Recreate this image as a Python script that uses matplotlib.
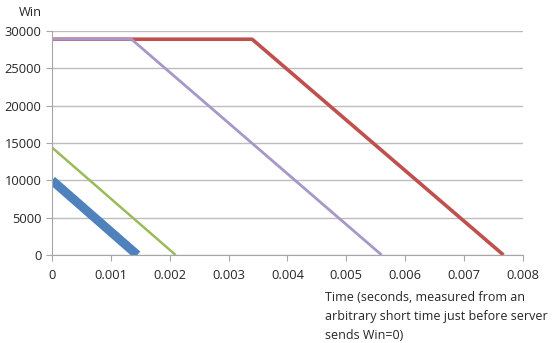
import numpy as np
import matplotlib
matplotlib.use("Agg")
import matplotlib.pyplot as plt

plt.rcParams['font.family'] = ['Open Sans', 'DejaVu Sans']

# breakpoints of each series (time in s, window in bytes)
blue_t = [0.0, 0.00145]
blue_w = [10000, 0]
green_t = [0.0, 0.0021]
green_w = [14400, 0]
purple_t = [0.0, 0.00135, 0.0056]
purple_w = [28900, 28900, 0]
red_t = [0.0, 0.0034, 0.00767]
red_w = [28900, 28900, 0]

xticks = [0, 0.001, 0.002, 0.003, 0.004, 0.005, 0.006, 0.007, 0.008]
xticklabels = ["0", "0.001", "0.002", "0.003", "0.004", "0.005", "0.006", "0.007", "0.008"]
yticks = [0, 5000, 10000, 15000, 20000, 25000, 30000]

fig = plt.figure(figsize=(5.56, 3.43), dpi=100)
ax = fig.add_axes([0.0935, 0.2566, 0.847, 0.653])

ax.plot(red_t, red_w, color="#C0504D", linewidth=2.6, solid_capstyle="butt")
ax.plot(purple_t, purple_w, color="#A897C9", linewidth=2.0, solid_capstyle="butt")
ax.plot(green_t, green_w, color="#9BBB59", linewidth=1.8, solid_capstyle="butt")
ax.plot(blue_t, blue_w, color="#4F81BD", linewidth=6.5, solid_capstyle="butt")

ax.set_xlim(0, 0.008)
ax.set_ylim(0, 30000)
ax.set_xticks(xticks)
ax.set_xticklabels(xticklabels)
ax.set_yticks(yticks)
ax.grid(axis="y", color="#BDBDBD", linewidth=1.0)
ax.set_axisbelow(True)
for s in ["top", "right"]:
    ax.spines[s].set_visible(False)
for s in ["left", "bottom"]:
    ax.spines[s].set_color("#A6A6A6")
ax.tick_params(axis="both", colors="#A6A6A6", labelcolor="#262626", labelsize=9.3, length=4)
ax.tick_params(axis="x", pad=6)

fig.text(0.055, 0.965, "Win", fontsize=9.3, color="#262626", ha="center", va="center")
fig.text(0.585, 0.152, "Time (seconds, measured from an\narbitrary short time just before server\nsends Win=0)",
         fontsize=9, color="#262626", ha="left", va="top", linespacing=1.62)

fig.savefig("out.png", dpi=100)
